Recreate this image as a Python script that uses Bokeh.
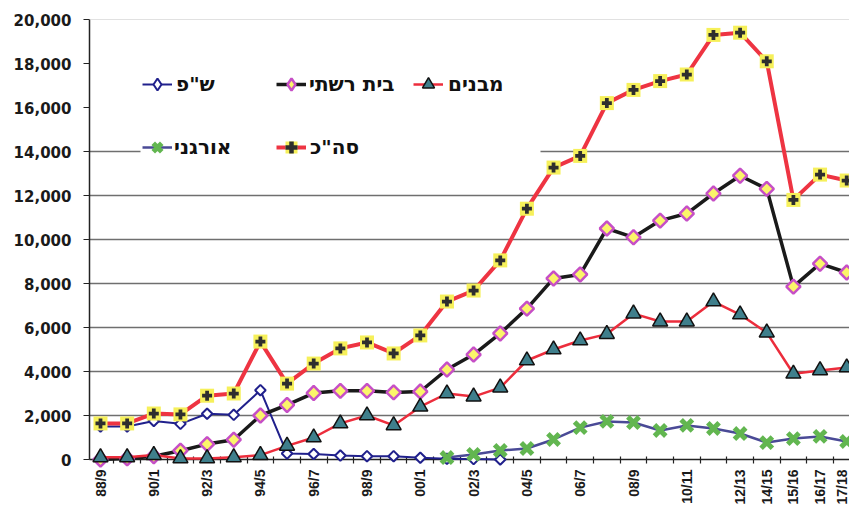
import math
import numpy as np
from bokeh.plotting import figure
from bokeh.models import (Range1d, FixedTicker, NumeralTickFormatter, Legend,
                          LegendItem, Span, BoxAnnotation)
from bokeh.embed import file_html
from bokeh.resources import INLINE

NaN = np.nan

years = ["88/9", "89/90", "90/1", "91/2", "92/3", "93/4", "94/5", "95/6", "96/7",
         "97/8", "98/9", "99/00", "00/1", "01/2", "02/3", "03/4", "04/5", "05/6",
         "06/7", "07/8", "08/9", "09/10", "10/11", "11/12", "12/13", "14/15",
         "15/16", "16/17", "17/18"]
label_years = ["88/9", "90/1", "92/3", "94/5", "96/7", "98/9", "00/1", "02/3", "04/5",
               "06/7", "08/9", "10/11", "12/13", "14/15", "15/16", "16/17", "17/18"]

shp = [1500, 1500, 1750, 1620, 2080, 2030, 3150, 270, 250, 180, 150, 150, 80, 30, 20, 0] + [NaN] * 13
beit = [0, 50, 150, 400, 700, 900, 2000, 2480, 3020, 3120, 3120, 3050, 3090, 4090, 4770,
        5730, 6860, 8230, 8410, 10500, 10100, 10860, 11180, 12090, 12900, 12300, 7860, 8900, 8500]
mivnim = [100, 100, 200, 50, 50, 100, 200, 620, 1000, 1640, 2000, 1550, 2400, 3000, 2860,
          3270, 4500, 5000, 5410, 5700, 6630, 6270, 6270, 7180, 6590, 5770, 3900, 4050, 4180]
organi = [NaN] * 13 + [90, 230, 410, 500, 910, 1450, 1730, 1680, 1320, 1550, 1410, 1180,
                       770, 950, 1050, 820]
total = [1640, 1640, 2090, 2050, 2900, 3000, 5360, 3450, 4360, 5050, 5320, 4820, 5640, 7180,
         7680, 9050, 11400, 13270, 13800, 16200, 16800, 17200, 17500, 19300, 19400, 18100,
         11800, 12950, 12680]

names = ['ש"פ', "בית רשתי", "מבנים", "אורגני", 'סה"כ']
y_ticks = list(range(0, 20001, 2000))
grid_ticks = list(range(2000, 14001, 2000))

x = list(range(len(years)))
label_idx = [years.index(l) for l in label_years]

# frame: left edge at px 89, first category at px 100, 26.65 px per category, right edge 849
PX0, DX = 100.0, 26.65
X_START, X_END = (89 - PX0) / DX, (849 - PX0) / DX
p = figure(width=849, height=507, output_backend="svg", toolbar_location=None,
           x_range=Range1d(X_START, X_END), y_range=Range1d(0, 20000),
           min_border_left=89, min_border_right=0, min_border_top=19, min_border_bottom=48,
           background_fill_color="white", border_fill_color="white", outline_line_color=None)

# grid
p.xgrid.visible = False
p.ygrid.ticker = FixedTicker(ticks=grid_ticks)
p.ygrid.grid_line_color = "#6f6f6f"
p.ygrid.grid_line_width = 1.3

top_line = Span(location=20000, dimension="width", line_color="#c4c4c4", line_width=1.2)
p.add_layout(top_line)

# y axis
yax = p.yaxis[0]
yax.ticker = FixedTicker(ticks=y_ticks)
yax.formatter = NumeralTickFormatter(format="0,0")
yax.major_tick_out = 6
yax.major_tick_in = 0
yax.minor_tick_line_color = None
yax.axis_line_color = "#222222"
yax.axis_line_width = 1.5
yax.major_tick_line_color = "#222222"
yax.major_tick_line_width = 1.2
yax.major_label_standoff = 12
yax.major_label_text_font = "DejaVu Sans"
yax.major_label_text_font_style = "bold"
yax.major_label_text_font_size = "15px"
yax.major_label_text_color = "#1a1a1a"

# x axis
xax = p.xaxis[0]
xax.ticker = FixedTicker(ticks=label_idx, minor_ticks=[i + 0.5 for i in range(len(years) - 1)])
xax.major_label_overrides = {i: years[i] for i in label_idx}
xax.major_tick_in = 0
xax.major_tick_out = 0
xax.minor_tick_in = 3
xax.minor_tick_out = 4
xax.minor_tick_line_color = "#222222"
xax.minor_tick_line_width = 1.2
xax.axis_line_color = "#222222"
xax.axis_line_width = 1.5
xax.major_label_orientation = math.pi / 2
xax.major_label_standoff = 6
xax.major_label_text_font = "Liberation Sans"
xax.major_label_text_font_style = "bold"
xax.major_label_text_font_size = "14px"
xax.major_label_text_color = "#1a1a1a"

# white patch behind the legend (hides the 14,000 gridline there)
mask = BoxAnnotation(left=(140 - PX0) / DX, right=(540 - PX0) / DX, bottom=13400, top=14600,
                     fill_color="white", fill_alpha=1.0, line_color=None, level="underlay")
p.add_layout(mask)

rends = {}
NO_POINT = [NaN]  # legend-only marker renderers (nothing drawn in the plot)

# ש"פ
l1 = p.line(x, shp, line_color="#20208c", line_width=2)
m1 = p.scatter(x, shp, marker="square", angle=math.pi / 4, size=7.5, fill_color="white",
               line_color="#20208c", line_width=2)
k1 = p.scatter(NO_POINT, NO_POINT, marker="diamond", size=12, fill_color="white",
               line_color="#20208c", line_width=2)
rends[0] = [l1, k1]

# בית רשתי
l2 = p.line(x, beit, line_color="#1a1a1a", line_width=3.5)
m2 = p.scatter(x, beit, marker="square", angle=math.pi / 4, size=10, fill_color="#fbf56a",
               line_color="#c64fc6", line_width=2.5)
k2 = p.scatter(NO_POINT, NO_POINT, marker="diamond", size=16, fill_color="#fbf56a",
               line_color="#c64fc6", line_width=2.5)
rends[1] = [l2, k2]

# מבנים
l3 = p.line(x, mivnim, line_color="#ec2d3c", line_width=2.5)
m3 = p.scatter(x, mivnim, marker="triangle", size=15, fill_color="#3f7f8c",
               line_color="#111111", line_width=1.5)
rends[2] = [l3, m3]

# אורגני
l4 = p.line(x, organi, line_color="#4a4a96", line_width=2.5)
m4 = p.scatter(x, organi, marker="x", size=16, line_color="#62b650", line_width=5)
rends[3] = [l4, m4]

# סה"כ
l5 = p.line(x, total, line_color="#ee3442", line_width=4)
m5a = p.scatter(x, total, marker="square", size=14, fill_color="#f6f05a", line_color=None)
m5b = p.scatter(x, total, marker="plus", size=10, fill_color="#2e2e2e", line_color=None)
rends[4] = [l5, m5a, m5b]

for r in [l1, m1, k1, l2, m2, k2, l3, m3, l4, m4, l5, m5a, m5b]:
    r.level = "overlay"

# legends: (x from frame left, y of bottom from frame bottom, standoff)
GW, GH = 30, 34
leg_pos = [(53, 358, 4), (187, 358, 3), (324, 358, 5),
           (53, 295, 2), (187, 295, 4)]
for k, (lx, ly, so) in enumerate(leg_pos):
    lg = Legend(items=[LegendItem(label=names[k], renderers=rends[k])], location=(lx, ly),
                orientation="horizontal", padding=0, margin=0, spacing=0,
                label_standoff=so, glyph_width=GW, glyph_height=GH, label_height=GH,
                border_line_color=None, background_fill_alpha=0,
                label_text_font="DejaVu Sans", label_text_font_style="bold",
                label_text_font_size="20px", label_text_color="#111111")
    p.add_layout(lg)

open("out.html", "w").write(file_html(p, INLINE))
